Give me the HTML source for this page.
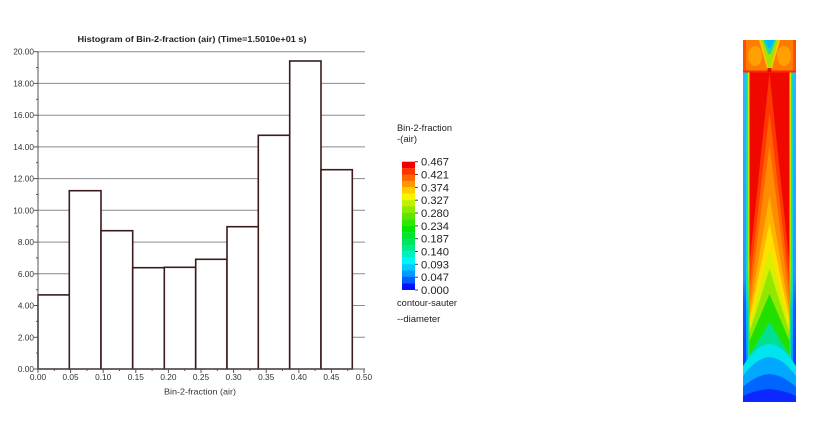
<!DOCTYPE html>
<html><head><meta charset="utf-8"><style>
html,body{margin:0;padding:0;background:#fff;}
svg{display:block;}
text{font-family:"Liberation Sans",Arial,sans-serif;}
</style></head><body>
<svg width="820" height="424" viewBox="0 0 820 424" xmlns="http://www.w3.org/2000/svg">
<rect width="820" height="424" fill="#fff"/>
<!-- Title -->
<text x="192" y="42" font-size="8.6" font-weight="bold" fill="#222" text-anchor="middle" textLength="229" lengthAdjust="spacingAndGlyphs">Histogram of Bin-2-fraction (air) (Time=1.5010e+01 s)</text>
<!-- gridlines -->
<g stroke="#8c8c8c" stroke-width="1">
<line x1="38" y1="51.7" x2="365" y2="51.7"/>
<line x1="38" y1="83.4" x2="365" y2="83.4"/>
<line x1="38" y1="115.2" x2="365" y2="115.2"/>
<line x1="38" y1="146.9" x2="365" y2="146.9"/>
<line x1="38" y1="178.6" x2="365" y2="178.6"/>
<line x1="38" y1="210.3" x2="365" y2="210.3"/>
<line x1="38" y1="242.1" x2="365" y2="242.1"/>
<line x1="38" y1="273.8" x2="365" y2="273.8"/>
<line x1="38" y1="305.5" x2="365" y2="305.5"/>
<line x1="38" y1="337.3" x2="365" y2="337.3"/>
</g>
<!-- bars -->
<g fill="#fff" stroke="#3a1c1c" stroke-width="1.6">
<rect x="38" y="294.9" width="31.3" height="74.1"/>
<rect x="69.3" y="190.7" width="31.7" height="178.3"/>
<rect x="101" y="230.7" width="31.7" height="138.3"/>
<rect x="132.7" y="267.7" width="31.6" height="101.3"/>
<rect x="164.3" y="267.3" width="31.4" height="101.7"/>
<rect x="195.7" y="259.3" width="31.3" height="109.7"/>
<rect x="227" y="226.7" width="31.3" height="142.3"/>
<rect x="258.3" y="135.3" width="31.4" height="233.7"/>
<rect x="289.7" y="61" width="31.3" height="308"/>
<rect x="321" y="169.7" width="31.3" height="199.3"/>
</g>
<!-- axes -->
<g stroke="#555" stroke-width="1">
<line x1="38" y1="51.7" x2="38" y2="369"/>
<line x1="38" y1="369" x2="365" y2="369"/>
</g>
<!-- y ticks -->
<g stroke="#555" stroke-width="1">
<line x1="34" y1="51.7" x2="38" y2="51.7"/><line x1="36" y1="67.6" x2="38" y2="67.6"/>
<line x1="34" y1="83.4" x2="38" y2="83.4"/><line x1="36" y1="99.3" x2="38" y2="99.3"/>
<line x1="34" y1="115.2" x2="38" y2="115.2"/><line x1="36" y1="131.0" x2="38" y2="131.0"/>
<line x1="34" y1="146.9" x2="38" y2="146.9"/><line x1="36" y1="162.7" x2="38" y2="162.7"/>
<line x1="34" y1="178.6" x2="38" y2="178.6"/><line x1="36" y1="194.5" x2="38" y2="194.5"/>
<line x1="34" y1="210.3" x2="38" y2="210.3"/><line x1="36" y1="226.2" x2="38" y2="226.2"/>
<line x1="34" y1="242.1" x2="38" y2="242.1"/><line x1="36" y1="257.9" x2="38" y2="257.9"/>
<line x1="34" y1="273.8" x2="38" y2="273.8"/><line x1="36" y1="289.7" x2="38" y2="289.7"/>
<line x1="34" y1="305.5" x2="38" y2="305.5"/><line x1="36" y1="321.4" x2="38" y2="321.4"/>
<line x1="34" y1="337.3" x2="38" y2="337.3"/><line x1="36" y1="353.1" x2="38" y2="353.1"/>
<line x1="34" y1="369" x2="38" y2="369"/>
</g>
<g font-size="8.3" fill="#333" text-anchor="end">
<text x="34" y="54.7">20.00</text>
<text x="34" y="86.4">18.00</text>
<text x="34" y="118.2">16.00</text>
<text x="34" y="149.9">14.00</text>
<text x="34" y="181.6">12.00</text>
<text x="34" y="213.3">10.00</text>
<text x="34" y="245.1">8.00</text>
<text x="34" y="276.8">6.00</text>
<text x="34" y="308.5">4.00</text>
<text x="34" y="340.3">2.00</text>
<text x="34" y="372">0.00</text>
</g>
<!-- x ticks -->
<g stroke="#555" stroke-width="1">
<line x1="38" y1="369" x2="38" y2="373"/><line x1="54.3" y1="369" x2="54.3" y2="371"/>
<line x1="70.6" y1="369" x2="70.6" y2="373"/><line x1="86.9" y1="369" x2="86.9" y2="371"/>
<line x1="103.2" y1="369" x2="103.2" y2="373"/><line x1="119.5" y1="369" x2="119.5" y2="371"/>
<line x1="135.8" y1="369" x2="135.8" y2="373"/><line x1="152.1" y1="369" x2="152.1" y2="371"/>
<line x1="168.4" y1="369" x2="168.4" y2="373"/><line x1="184.7" y1="369" x2="184.7" y2="371"/>
<line x1="201" y1="369" x2="201" y2="373"/><line x1="217.3" y1="369" x2="217.3" y2="371"/>
<line x1="233.6" y1="369" x2="233.6" y2="373"/><line x1="249.9" y1="369" x2="249.9" y2="371"/>
<line x1="266.2" y1="369" x2="266.2" y2="373"/><line x1="282.5" y1="369" x2="282.5" y2="371"/>
<line x1="298.8" y1="369" x2="298.8" y2="373"/><line x1="315.1" y1="369" x2="315.1" y2="371"/>
<line x1="331.4" y1="369" x2="331.4" y2="373"/><line x1="347.7" y1="369" x2="347.7" y2="371"/>
<line x1="364" y1="369" x2="364" y2="373"/>
</g>
<g font-size="8.3" fill="#333" text-anchor="middle">
<text x="38" y="380">0.00</text>
<text x="70.6" y="380">0.05</text>
<text x="103.2" y="380">0.10</text>
<text x="135.8" y="380">0.15</text>
<text x="168.4" y="380">0.20</text>
<text x="201" y="380">0.25</text>
<text x="233.6" y="380">0.30</text>
<text x="266.2" y="380">0.35</text>
<text x="298.8" y="380">0.40</text>
<text x="331.4" y="380">0.45</text>
<text x="364" y="380">0.50</text>
</g>
<text x="200" y="394.5" font-size="8.3" fill="#333" text-anchor="middle" textLength="72" lengthAdjust="spacingAndGlyphs">Bin-2-fraction (air)</text>

<!-- Legend -->
<g font-size="9.5" fill="#222">
<text x="397" y="131" textLength="55" lengthAdjust="spacingAndGlyphs">Bin-2-fraction</text>
<text x="397" y="142">-(air)</text>
<text x="397" y="306" textLength="60" lengthAdjust="spacingAndGlyphs">contour-sauter</text>
<text x="397" y="322">--diameter</text>
</g>
<g>
<rect x="402" y="161.7" width="13" height="6.5" fill="hsl(0,100%,47%)"/>
<rect x="402" y="168.1" width="13" height="6.5" fill="hsl(12,100%,50%)"/>
<rect x="402" y="174.5" width="13" height="6.5" fill="hsl(24,100%,50%)"/>
<rect x="402" y="180.9" width="13" height="6.5" fill="hsl(36,100%,50%)"/>
<rect x="402" y="187.3" width="13" height="6.5" fill="hsl(48,100%,50%)"/>
<rect x="402" y="193.7" width="13" height="6.5" fill="hsl(60,100%,48%)"/>
<rect x="402" y="200.1" width="13" height="6.5" fill="hsl(72,100%,47%)"/>
<rect x="402" y="206.5" width="13" height="6.5" fill="hsl(84,100%,46%)"/>
<rect x="402" y="212.9" width="13" height="6.5" fill="hsl(96,100%,45%)"/>
<rect x="402" y="219.3" width="13" height="6.5" fill="hsl(108,100%,45%)"/>
<rect x="402" y="225.7" width="13" height="6.5" fill="hsl(120,100%,45%)"/>
<rect x="402" y="232.1" width="13" height="6.5" fill="hsl(132,100%,45%)"/>
<rect x="402" y="238.5" width="13" height="6.5" fill="hsl(144,100%,45%)"/>
<rect x="402" y="244.9" width="13" height="6.5" fill="hsl(156,100%,46%)"/>
<rect x="402" y="251.3" width="13" height="6.5" fill="hsl(168,100%,47%)"/>
<rect x="402" y="257.7" width="13" height="6.5" fill="hsl(180,100%,48%)"/>
<rect x="402" y="264.1" width="13" height="6.5" fill="hsl(192,100%,50%)"/>
<rect x="402" y="270.5" width="13" height="6.5" fill="hsl(204,100%,50%)"/>
<rect x="402" y="276.9" width="13" height="6.5" fill="hsl(218,100%,50%)"/>
<rect x="402" y="283.3" width="13" height="6.7" fill="hsl(236,100%,50%)"/>
</g>
<g stroke="#444" stroke-width="1">
<line x1="415" y1="161.7" x2="418" y2="161.7"/><line x1="415" y1="174.5" x2="418" y2="174.5"/>
<line x1="415" y1="187.4" x2="418" y2="187.4"/><line x1="415" y1="200.2" x2="418" y2="200.2"/>
<line x1="415" y1="213.0" x2="418" y2="213.0"/><line x1="415" y1="225.9" x2="418" y2="225.9"/>
<line x1="415" y1="238.7" x2="418" y2="238.7"/><line x1="415" y1="251.5" x2="418" y2="251.5"/>
<line x1="415" y1="264.3" x2="418" y2="264.3"/><line x1="415" y1="277.2" x2="418" y2="277.2"/>
<line x1="415" y1="290" x2="418" y2="290"/>
</g>
<g font-size="11.2" fill="#222">
<text x="421" y="165.7">0.467</text>
<text x="421" y="178.5">0.421</text>
<text x="421" y="191.4">0.374</text>
<text x="421" y="204.2">0.327</text>
<text x="421" y="217.0">0.280</text>
<text x="421" y="229.9">0.234</text>
<text x="421" y="242.7">0.187</text>
<text x="421" y="255.5">0.140</text>
<text x="421" y="268.3">0.093</text>
<text x="421" y="281.2">0.047</text>
<text x="421" y="294">0.000</text>
</g>

<!-- Contour column -->
<defs>
<linearGradient id="e1" x1="0" y1="0" x2="0" y2="1">
<stop offset="0" stop-color="#30b4ff"/>
<stop offset="0.62" stop-color="#2098ff"/>
<stop offset="0.7" stop-color="#1060ff"/>
<stop offset="1" stop-color="#0a30ff"/>
</linearGradient>
<linearGradient id="e2" x1="0" y1="0" x2="0" y2="1">
<stop offset="0" stop-color="#10d8c0"/>
<stop offset="0.65" stop-color="#10d8d0"/>
<stop offset="0.72" stop-color="#00b8ff"/>
<stop offset="1" stop-color="#0070ff"/>
</linearGradient>
<linearGradient id="e3" x1="0" y1="0" x2="0" y2="1">
<stop offset="0" stop-color="#d8e800"/>
<stop offset="0.6" stop-color="#a0e800"/>
<stop offset="0.72" stop-color="#20e060"/>
<stop offset="1" stop-color="#00d8ff"/>
</linearGradient>
<clipPath id="col"><rect x="743" y="40" width="53" height="362"/></clipPath>
</defs>
<g clip-path="url(#col)">
<rect x="743" y="72" width="53" height="330" fill="#f00800"/>
<polygon points="769.5,73 790,269 790,402 749,402 749,269" fill="#ff3800"/>
<polygon points="769.5,113 790,290 790,402 749,402 749,290" fill="#ff6400"/>
<polygon points="769.5,146 790,305 790,402 749,402 749,305" fill="#ff8c00"/>
<polygon points="769.5,196 790,315 790,402 749,402 749,315" fill="#ffb400"/>
<polygon points="769.5,223 790,322 790,402 749,402 749,322" fill="#ffe000"/>
<polygon points="769.5,249 790,328 790,402 749,402 749,328" fill="#d8f000"/>
<polygon points="769.5,269 790,334 790,402 749,402 749,334" fill="#90e800"/>
<polygon points="769.5,294 790,342 790,402 749,402 749,342" fill="#20e000"/>
<polygon points="769.5,322 790,356 790,402 749,402 749,356" fill="#00e090"/>
<!-- side boundary layers -->
<rect x="743" y="72" width="6.5" height="330" fill="url(#e3)"/>
<rect x="743" y="72" width="4.8" height="330" fill="url(#e2)"/>
<rect x="743" y="72" width="3" height="330" fill="url(#e1)"/>
<rect x="789.5" y="72" width="6.5" height="330" fill="url(#e3)"/>
<rect x="791.2" y="72" width="4.8" height="330" fill="url(#e2)"/>
<rect x="793" y="72" width="3" height="330" fill="url(#e1)"/>
<!-- lower domes -->
<path d="M743,402 L743,366 Q756,345 769.5,344 Q783,345 796,366 L796,402 Z" fill="#00e4f0"/>
<path d="M743,402 L743,376 Q756,358 769.5,357 Q783,358 796,376 L796,402 Z" fill="#00a8ff"/>
<path d="M743,402 L743,387 Q756,375 769.5,374 Q783,375 796,387 L796,402 Z" fill="#0064ff"/>
<path d="M743,402 L743,396 Q756,390 769.5,389 Q783,390 796,396 L796,402 Z" fill="#0a28ff"/>
<!-- top region -->
<rect x="743" y="40" width="53" height="32" fill="#ff7c00"/>
<rect x="743" y="40" width="3" height="32" fill="#ff5000"/>
<rect x="793" y="40" width="3" height="32" fill="#ff5000"/>
<ellipse cx="755" cy="56" rx="7" ry="10" fill="#ffa000"/>
<ellipse cx="784" cy="56" rx="7" ry="10" fill="#ffa000"/>
<polygon points="759,40 780,40 771.5,70 767.5,70" fill="#ffc800"/>
<polygon points="761,40 778,40 770.5,69 768.5,69" fill="#a8e000"/>
<polygon points="763,40 776,40 770.8,54 768.2,54" fill="#20d8a0"/>
<polygon points="765,40 774,40 770.4,48 768.6,48" fill="#00b8ff"/>
<rect x="743" y="70.5" width="53" height="2" fill="#ff2800"/>
<rect x="767.5" y="68" width="4" height="4" fill="#e01000"/>
</g>
</svg>
</body></html>
